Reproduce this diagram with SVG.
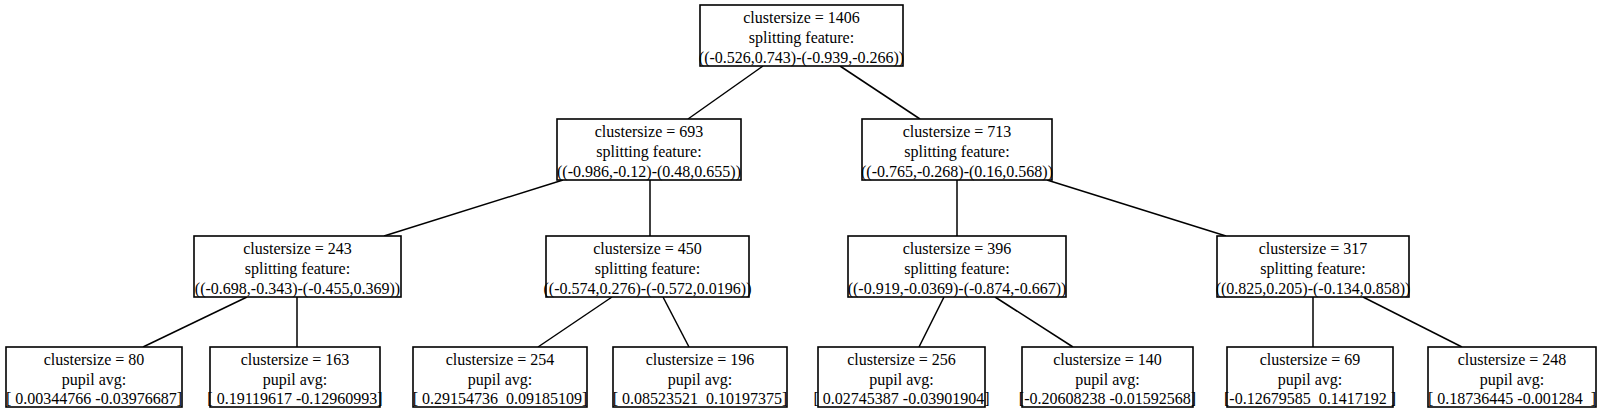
<svg xmlns="http://www.w3.org/2000/svg" width="1600" height="414" viewBox="0 0 1600 414">
<style>
rect.n{fill:#fff;stroke:#000;stroke-width:1.6}
text{font-family:"Liberation Serif","Times New Roman",serif;font-size:16px;fill:#000;text-anchor:middle}
#edges line{stroke:#000;stroke-width:1.5}
</style>
<rect width="1600" height="414" fill="#fff"/>
<g id="edges">
<line x1="763" y1="66" x2="688" y2="119"/>
<line x1="840" y1="66" x2="920" y2="119"/>
<line x1="563" y1="180" x2="384" y2="236"/>
<line x1="650" y1="180" x2="650" y2="236"/>
<line x1="957" y1="180" x2="957" y2="236"/>
<line x1="1047" y1="180" x2="1226" y2="236"/>
<line x1="247" y1="297" x2="143" y2="347"/>
<line x1="297" y1="297" x2="297" y2="347"/>
<line x1="612" y1="297" x2="538" y2="347"/>
<line x1="663" y1="297" x2="689" y2="347"/>
<line x1="944" y1="297" x2="919" y2="347"/>
<line x1="995" y1="297" x2="1073" y2="347"/>
<line x1="1313" y1="297" x2="1313" y2="347"/>
<line x1="1363" y1="297" x2="1462" y2="347"/>
</g>
<g id="n1406"><rect class="n" x="700" y="5" width="203" height="61"/><text x="801.5" y="23">clustersize = 1406</text><text x="801.5" y="43">splitting feature:</text><text x="801.5" y="63">((-0.526,0.743)-(-0.939,-0.266))</text></g>
<g id="n693"><rect class="n" x="557" y="119" width="184" height="61"/><text x="649" y="137">clustersize = 693</text><text x="649" y="157">splitting feature:</text><text x="649" y="177">((-0.986,-0.12)-(0.48,0.655))</text></g>
<g id="n713"><rect class="n" x="862" y="119" width="190" height="61"/><text x="957" y="137">clustersize = 713</text><text x="957" y="157">splitting feature:</text><text x="957" y="177">((-0.765,-0.268)-(0.16,0.568))</text></g>
<g id="n243"><rect class="n" x="194" y="236" width="207" height="61"/><text x="297.5" y="254">clustersize = 243</text><text x="297.5" y="274">splitting feature:</text><text x="297.5" y="294">((-0.698,-0.343)-(-0.455,0.369))</text></g>
<g id="n450"><rect class="n" x="546" y="236" width="203" height="61"/><text x="647.5" y="254">clustersize = 450</text><text x="647.5" y="274">splitting feature:</text><text x="647.5" y="294">((-0.574,0.276)-(-0.572,0.0196))</text></g>
<g id="n396"><rect class="n" x="848" y="236" width="218" height="61"/><text x="957" y="254">clustersize = 396</text><text x="957" y="274">splitting feature:</text><text x="957" y="294">((-0.919,-0.0369)-(-0.874,-0.667))</text></g>
<g id="n317"><rect class="n" x="1217" y="236" width="192" height="61"/><text x="1313" y="254">clustersize = 317</text><text x="1313" y="274">splitting feature:</text><text x="1313" y="294">((0.825,0.205)-(-0.134,0.858))</text></g>
<g id="n80"><rect class="n" x="6" y="347" width="176" height="60"/><text x="94" y="365">clustersize = 80</text><text x="94" y="385">pupil avg:</text><text x="94" y="404">[ 0.00344766 -0.03976687]</text></g>
<g id="n163"><rect class="n" x="210" y="347" width="170" height="60"/><text x="295" y="365">clustersize = 163</text><text x="295" y="385">pupil avg:</text><text x="295" y="404">[ 0.19119617 -0.12960993]</text></g>
<g id="n254"><rect class="n" x="413" y="347" width="174" height="60"/><text x="500" y="365">clustersize = 254</text><text x="500" y="385">pupil avg:</text><text x="500" y="404" xml:space="preserve">[ 0.29154736  0.09185109]</text></g>
<g id="n196"><rect class="n" x="613" y="347" width="174" height="60"/><text x="700" y="365">clustersize = 196</text><text x="700" y="385">pupil avg:</text><text x="700" y="404" xml:space="preserve">[ 0.08523521  0.10197375]</text></g>
<g id="n256"><rect class="n" x="818" y="347" width="167" height="60"/><text x="901.5" y="365">clustersize = 256</text><text x="901.5" y="385">pupil avg:</text><text x="901.5" y="404">[ 0.02745387 -0.03901904]</text></g>
<g id="n140"><rect class="n" x="1022" y="347" width="171" height="60"/><text x="1107.5" y="365">clustersize = 140</text><text x="1107.5" y="385">pupil avg:</text><text x="1107.5" y="404">[-0.20608238 -0.01592568]</text></g>
<g id="n69"><rect class="n" x="1227" y="347" width="166" height="60"/><text x="1310" y="365">clustersize = 69</text><text x="1310" y="385">pupil avg:</text><text x="1310" y="404" xml:space="preserve">[-0.12679585  0.1417192 ]</text></g>
<g id="n248"><rect class="n" x="1428" y="347" width="168" height="60"/><text x="1512" y="365">clustersize = 248</text><text x="1512" y="385">pupil avg:</text><text x="1512" y="404" xml:space="preserve">[ 0.18736445 -0.001284  ]</text></g>
</svg>
